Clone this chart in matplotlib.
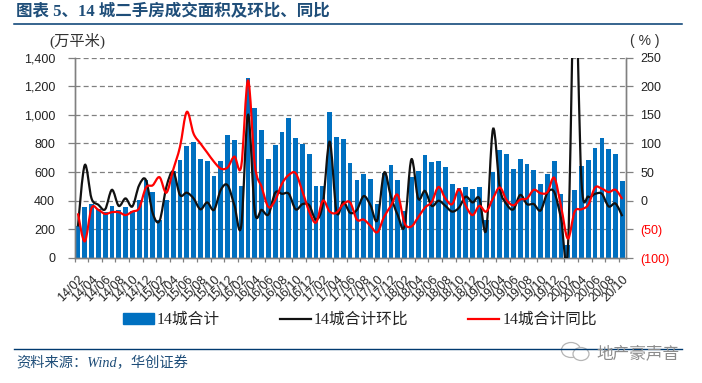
import matplotlib
matplotlib.use("Agg")
import matplotlib.pyplot as plt
from matplotlib.lines import Line2D
from matplotlib.patches import Ellipse, Patch, PathPatch
from matplotlib.path import Path

tick_labels = ["14/02", "14/04", "14/06", "14/08", "14/10", "14/12", "15/02", "15/04", "15/06", "15/08", "15/10",
               "15/12", "16/02", "16/04", "16/06", "16/08", "16/10", "16/12", "17/02", "17/04", "17/06", "17/08",
               "17/10", "17/12", "18/02", "18/04", "18/06", "18/08", "18/10", "18/12", "19/02", "19/04", "19/06",
               "19/08", "19/10", "19/12", "20/02", "20/04", "20/06", "20/08", "20/10"]

area = [220, 356, 375, 344, 323, 363, 335, 356, 325, 404, 545, 460, 265, 405, 610, 684, 782, 810, 690, 679,
        575, 680, 858, 822, 500, 1258, 1045, 895, 690, 790, 880, 980, 835, 797, 725, 505, 505, 1020, 845, 830,
        660, 545, 586, 551, 377, 596, 649, 544, 327, 566, 607, 719, 670, 677, 635, 517, 487, 495, 482, 495,
        265, 600, 755, 726, 621, 691, 656, 614, 516, 586, 677, 447, 90, 475, 642, 684, 768, 838, 761, 726, 537]

mom = [-45, 62, 4, -7, -15, 19, -9, 4, -10, 27, 36, -22, -35, 24, 51, 10, 14, 4, -15, -3,
       -16, 19, 27, -8, -44, 150, -19, -16, -24, 14, 12, 12, -15, -6, -8, -33, -5, 103, -19, -2,
       -21, -16, 8, -8, -34, 49, 7, -25, -44, 72, 4, 17, -9, 0, -9, -19, -12, 7, -3, 4,
       -51, 125, 22, -6, -15, 10, -6, -6, -17, 14, 15, -31, -85, 390, 33, 7, 12, 12, -10, -5, -27]

yoy = [-22, -71, -13, -16, -23, -20, -20, -25, -19, -13, 23, 27, 41, 14, 54, 94, 155, 117, 100, 84,
       68, 56, 58, 77, 60, 210, 62, 24, -11, 1, 30, 45, 48, 16, -19, -38, 0, -19, -21, -6,
       -3, -33, -33, -44, -55, -28, -9, 10, -39, -45, -29, -12, -2, 24, 4, -6, 20, -9, -25, -9,
       -19, 4, 23, 1, -8, 2, 4, 19, 13, 15, 40, -10, -66, -19, -15, -7, 23, 21, 15, 19, 3]

left_ticks = [0, 200, 400, 600, 800, 1000, 1200, 1400]
right_ticks = [-100, -50, 0, 50, 100, 150, 200, 250]
right_labels = ["(100)", "(50)", "0", "50", "100", "150", "200", "250"]

W, H = 702, 383
NAVY = "#1f4e79"
RED = "#ff0000"
BLUE = "#0070c0"
GRAY = "#808080"
SERIF_CJK = ["Liberation Serif", "Noto Sans CJK SC"]


def smooth_path(values):
    # same kind of curve as a spreadsheet "smoothed line": one bezier per pair of points
    n = len(values)
    verts = [(0, values[0])]
    codes = [Path.MOVETO]
    for i in range(n - 1):
        prev = values[max(i - 1, 0)]
        nxt = values[min(i + 2, n - 1)]
        prev_x = max(i - 1, 0)
        nxt_x = min(i + 2, n - 1)
        verts.append((i + (i + 1 - prev_x) / 6, values[i] + (values[i + 1] - prev) / 6))
        verts.append((i + 1 - (nxt_x - i) / 6, values[i + 1] - (nxt - values[i]) / 6))
        verts.append((i + 1, values[i + 1]))
        codes += [Path.CURVE4] * 3
    return Path(verts, codes)


plt.rcParams["font.family"] = ["Liberation Sans", "Noto Sans CJK SC"]
fig = plt.figure(figsize=(W / 100, H / 100), dpi=100)

ax = fig.add_axes([74.5 / W, 1 - 258 / H, 551.2 / W, 200.5 / H])
ax.bar(range(len(area)), area, width=0.7, color=BLUE, zorder=2)
ax.set_xlim(-0.5, len(area) - 0.5)
ax.set_ylim(0, 1400)
ax.set_yticks(left_ticks)
ax.set_yticklabels([f"{v:,}" for v in left_ticks], fontsize=9, color="#222222")
ax.yaxis.grid(True, color=GRAY, linestyle=(0, (4, 2.5)), linewidth=0.9)
ax.set_axisbelow(True)
ax.set_xticks([i - 0.5 for i in range(0, len(area) + 1, 2)])
ax.set_xticklabels([])
ax.set_xticks(range(0, len(area), 2), minor=True)
ax.set_xticklabels(tick_labels, minor=True, rotation=45, ha="right", va="top",
                   rotation_mode="anchor", fontsize=9, color="#222222")
ax.tick_params(axis="x", which="major", length=3, color=GRAY, width=0.9)
ax.tick_params(axis="x", which="minor", length=0, pad=11)
ax.tick_params(axis="y", length=5, color=GRAY, width=0.9, pad=9)

ax2 = ax.twinx()
ax2.set_ylim(-100, 250)
ax2.set_yticks(right_ticks)
ax2.set_yticklabels(right_labels, fontsize=9)
for lab, v in zip(ax2.get_yticklabels(), right_ticks):
    lab.set_color(RED if v < 0 else "#222222")
ax2.tick_params(axis="y", length=5, color=GRAY, width=0.9, pad=5.5)

for a in (ax, ax2):
    a.spines["top"].set_visible(False)
    for side in ("left", "right", "bottom"):
        a.spines[side].set_color(GRAY)
        a.spines[side].set_linewidth(1.0)

ax2.add_patch(PathPatch(smooth_path(mom), fill=False, edgecolor="#111111", linewidth=1.6, zorder=3))
ax2.add_patch(PathPatch(smooth_path(yoy), fill=False, edgecolor=RED, linewidth=1.6, zorder=4))

handles = [Patch(color=BLUE), Line2D([], [], color="#111111", linewidth=1.6), Line2D([], [], color=RED, linewidth=1.6)]
fig.legend(handles, ["14城合计", "14城合计环比", "14城合计同比"], ncol=3, frameon=False,
           loc="center left", bbox_to_anchor=(123 / W, 1 - 320 / H), borderaxespad=0, borderpad=0,
           prop={"family": SERIF_CJK, "size": 11.3}, handlelength=1.97, handletextpad=0.2,
           columnspacing=3.8, labelcolor="#222222")

# title, rules, notes and watermark in pixel coordinates
top = fig.add_axes([0, 0, 1, 1], zorder=5)
top.set_xlim(0, W)
top.set_ylim(H, 0)
top.axis("off")
top.patch.set_alpha(0)

top.plot([14, 682], [23.5, 23.5], color="#003a70", linewidth=1.1)
top.plot([14, 682], [348.5, 348.5], color="#003a70", linewidth=1.0)
top.text(16, 11.5, "图表 5、14 城二手房成交面积及环比、同比", family=SERIF_CJK, fontsize=11.9,
         fontweight="bold", color=NAVY, va="center")
top.text(49, 41, "(万平米)", family=SERIF_CJK, fontsize=11, color="#333333", va="center")
top.text(630, 41, "( % )", fontsize=10, color="#333333", va="center")
top.text(16, 363, "资料来源：Wind，华创证券", family=SERIF_CJK, fontsize=10.3, style="italic",
         color=NAVY, va="center")

# small chat-bubble icon next to the watermark
top.add_patch(Ellipse((571, 350), 19, 15, facecolor="white", edgecolor="#b5b5b5", linewidth=0.9))
top.add_patch(Ellipse((581, 354), 16, 13, facecolor="white", edgecolor="#b5b5b5", linewidth=0.9))
top.text(596, 353, "地产豪声音", fontsize=12, color="#8c8c8c", va="center")

fig.savefig("out.png", dpi=100)
